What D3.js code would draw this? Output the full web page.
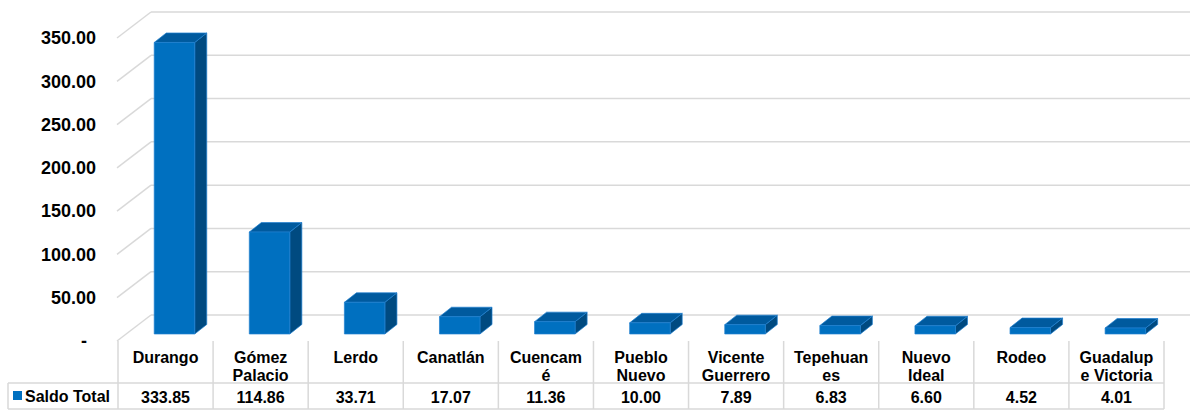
<!DOCTYPE html>
<html>
<head>
<meta charset="utf-8">
<script src="https://cdn.jsdelivr.net/npm/d3@7"></script>
<style>
  body { margin: 0; background: #fff; }
  text { font-family: "Liberation Sans", Arial, sans-serif; font-weight: bold; fill: #000; }
</style>
</head>
<body>
<svg id="chart"></svg>
<script>
const categories = ["Durango", "Gómez Palacio", "Lerdo", "Canatlán", "Cuencamé", "Pueblo Nuevo",
  "Vicente Guerrero", "Tepehuanes", "Nuevo Ideal", "Rodeo", "Guadalupe Victoria"];
// labels broken the way the table cell wraps them
const tickLabels = [["Durango"], ["Gómez", "Palacio"], ["Lerdo"], ["Canatlán"], ["Cuencam", "é"],
  ["Pueblo", "Nuevo"], ["Vicente", "Guerrero"], ["Tepehuan", "es"], ["Nuevo", "Ideal"],
  ["Rodeo"], ["Guadalup", "e Victoria"]];
const saldoTotal = [333.85, 114.86, 33.71, 17.07, 11.36, 10.00, 7.89, 6.83, 6.60, 4.52, 4.01];
const yTicks = [0, 50, 100, 150, 200, 250, 300, 350];
const seriesName = "Saldo Total";

const width = 1190, height = 410;
const depthX = 33, depthY = 26;      // oblique offset of the back wall
const zFront = 0.27, zBack = 0.635;  // bar depth inside the floor
const barLift = 2.5;                 // 3d columns sit a bit proud of the floor

const svg = d3.select("#chart").attr("width", width).attr("height", height);

const xScale = d3.scaleBand().domain(categories).range([118, 1164]);
// y on the back wall
const yScale = d3.scaleLinear().domain([0, 350]).range([315, 12]);

// project a point (band x, value, depth z) to the screen
const px = (x, z) => x + depthX * z;
const py = (v, z) => yScale(v) + depthY * (1 - z);

// grid on back wall + side wall diagonals
const grid = svg.append("g").attr("stroke", "#d9d9d9").attr("stroke-width", 1.5).attr("fill", "none");
yTicks.forEach((v) => {
  grid.append("line")
    .attr("x1", px(xScale.range()[0], 1)).attr("x2", width)
    .attr("y1", py(v, 1)).attr("y2", py(v, 1));
  grid.append("line")
    .attr("x1", px(xScale.range()[0], 0) - 1).attr("x2", px(xScale.range()[0], 1))
    .attr("y1", py(v, 0)).attr("y2", py(v, 1));
});

// y axis labels on the front plane
svg.append("g").selectAll("text").data(yTicks).join("text")
  .attr("x", (d) => (d === 0 ? 87 : 96))
  .attr("y", (d) => py(d, 0))
  .attr("dy", "0.35em")
  .attr("text-anchor", "end")
  .style("font-size", "18px")
  .text((d) => (d === 0 ? "-" : d3.format(".2f")(d)));

// bars
const barW = 40.5;
const bars = svg.append("g");
categories.forEach((c, i) => {
  const v = saldoTotal[i];
  const x0 = xScale(c) + xScale.bandwidth() / 2 - barW / 2;
  const x1 = x0 + barW;
  const P = (x, val, z) => [px(x, z), py(val, z) - (val > 0 ? barLift : 0)];
  const face = (pts, fill) => bars.append("path")
    .attr("d", "M" + pts.map((p) => p.join(",")).join("L") + "Z")
    .attr("fill", fill)
    .attr("stroke", "#1f7fd0")
    .attr("stroke-width", 0.7)
    .attr("stroke-linejoin", "round");
  // side
  face([P(x1, v, zFront), P(x1, v, zBack), P(x1, 0, zBack), P(x1, 0, zFront)], "#004a80");
  // top
  face([P(x0, v, zFront), P(x1, v, zFront), P(x1, v, zBack), P(x0, v, zBack)], "#005a9e");
  // front
  face([P(x0, v, zFront), P(x1, v, zFront), P(x1, 0, zFront), P(x0, 0, zFront)], "#0070c0");
});

// data table
const tTop = py(0, 0), tMid = 383, tBot = 409, tLeft = 8;
const table = svg.append("g").attr("stroke", "#d9d9d9").attr("stroke-width", 1.5);
const edges = categories.map((c) => xScale(c)).concat([xScale.range()[1]]);
edges.forEach((x) => {
  table.append("line").attr("x1", x).attr("x2", x).attr("y1", tTop).attr("y2", tBot);
});
table.append("line").attr("x1", tLeft).attr("x2", tLeft).attr("y1", tMid).attr("y2", tBot);
[tMid, tBot].forEach((y) => {
  table.append("line").attr("x1", tLeft).attr("x2", xScale.range()[1]).attr("y1", y).attr("y2", y);
});

const labels = svg.append("g").style("font-size", "16px").attr("text-anchor", "middle");
categories.forEach((c, i) => {
  const cx = xScale(c) + xScale.bandwidth() / 2;
  const t = labels.append("text").attr("x", cx).attr("y", 363);
  tickLabels[i].forEach((line, j) => {
    t.append("tspan").attr("x", cx).attr("dy", j === 0 ? 0 : 18).text(line);
  });
  labels.append("text").attr("x", cx).attr("y", 403).text(d3.format(".2f")(saldoTotal[i]));
});

// legend key in the table
svg.append("rect").attr("x", 13).attr("y", 391).attr("width", 9).attr("height", 9).attr("fill", "#0070c0");
svg.append("text").attr("x", 25).attr("y", 402).style("font-size", "16px").text(seriesName);
</script>
</body>
</html>
